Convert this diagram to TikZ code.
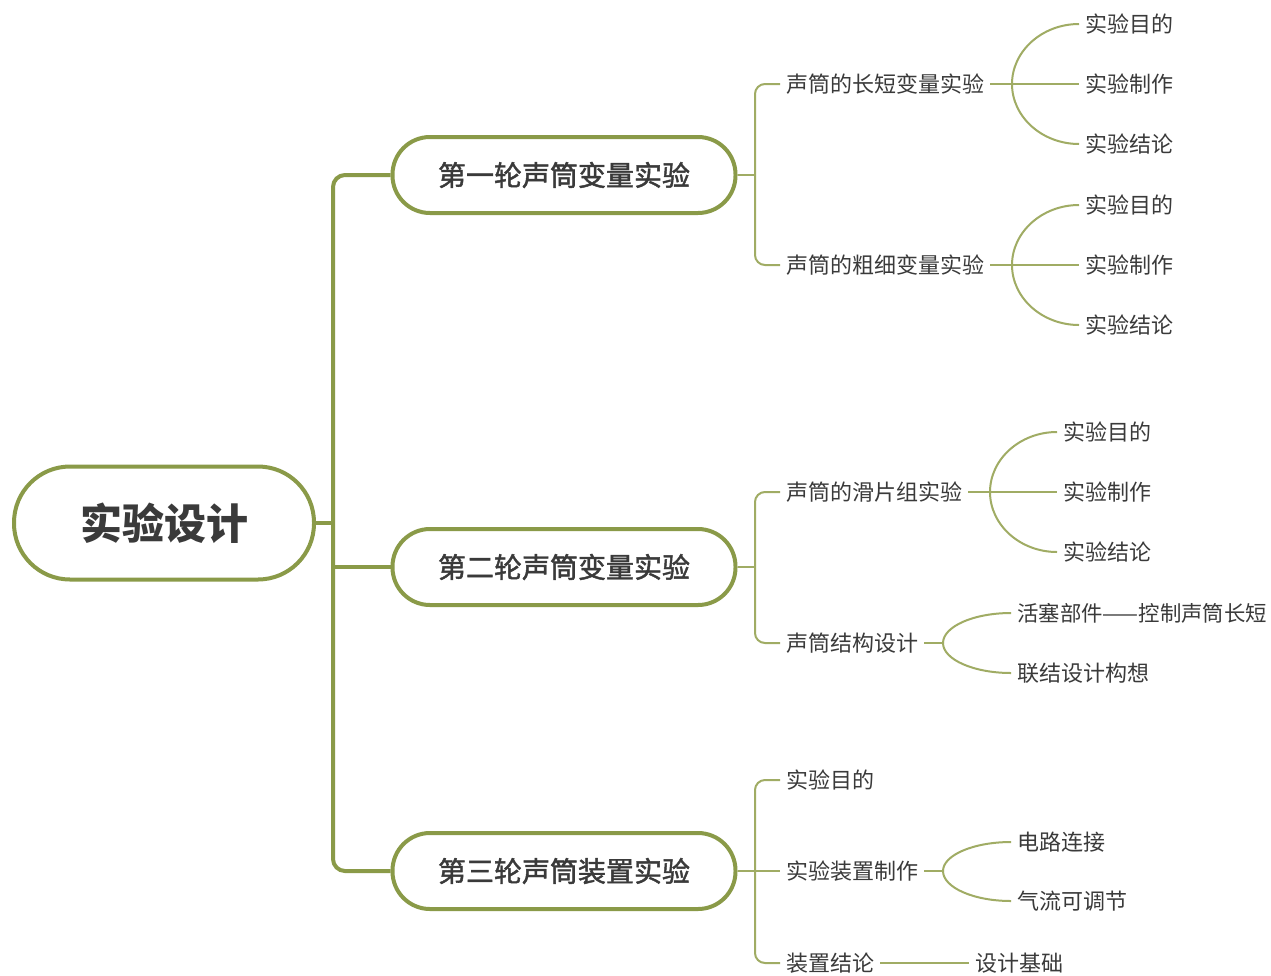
\documentclass[tikz,border=0pt]{standalone}
\usepackage{fontspec}
\usetikzlibrary{calc}
\setmainfont{Noto Sans CJK SC}
\newfontfamily\medcjk[FakeBold=1.6]{Noto Sans CJK SC}
\definecolor{olivea}{HTML}{8A9A48}
\definecolor{oliveb}{HTML}{A0AC64}
\definecolor{txt}{HTML}{3A3A3A}
\newcommand{\arcto}[2]{\draw[twig] (#1) .. controls ($(#1)!0.55!(#1 |- #2.west)$) and ($(#2.west)!0.55!(#1 |- #2.west)$) .. (#2.west);}
\begin{document}
\begin{tikzpicture}[x=1pt,y=-1pt]
\tikzset{
  rootbox/.style={draw=olivea, line width=4pt, rounded corners=56pt, minimum width=300pt, minimum height=113pt, font=\fontsize{42}{42}\selectfont\bfseries, text=txt},
  lvone/.style={draw=olivea, line width=4pt, rounded corners=37.5pt, minimum width=343pt, minimum height=76pt, font=\fontsize{28}{28}\medcjk, text=txt},
  leaf/.style={anchor=west, inner xsep=6pt, inner ysep=2pt, font=\fontsize{22}{22}\selectfont, text=txt},
  trunk/.style={draw=olivea, line width=4pt, rounded corners=12pt},
  twig/.style={draw=oliveb, line width=2pt},
  twigr/.style={draw=oliveb, line width=2pt, rounded corners=10pt},
}
\useasboundingbox (0,0) rectangle (1271,975);
\fill[white] (0,0) rectangle (1271,975);

% main nodes
\node[rootbox] (root) at (164,523) {实验设计};
\node[lvone] (a) at (564,175) {第一轮声筒变量实验};
\node[lvone] (b) at (564,567) {第二轮声筒变量实验};
\node[lvone] (c) at (564,871) {第三轮声筒装置实验};

% level 2
\node[leaf] (a1) at (780,84) {声筒的长短变量实验};
\node[leaf] (a2) at (780,265) {声筒的粗细变量实验};
\node[leaf] (b1) at (780,492) {声筒的滑片组实验};
\node[leaf] (b2) at (780,643) {声筒结构设计};
\node[leaf] (c1) at (780,780) {实验目的};
\node[leaf] (c2) at (780,871) {实验装置制作};
\node[leaf] (c3) at (780,963) {装置结论};

% level 3
\node[leaf] (a1t) at (1079,24) {实验目的};
\node[leaf] (a1m) at (1079,84) {实验制作};
\node[leaf] (a1b) at (1079,144) {实验结论};
\node[leaf] (a2t) at (1079,205) {实验目的};
\node[leaf] (a2m) at (1079,265) {实验制作};
\node[leaf] (a2b) at (1079,325) {实验结论};
\node[leaf] (b1t) at (1057,432) {实验目的};
\node[leaf] (b1m) at (1057,492) {实验制作};
\node[leaf] (b1b) at (1057,552) {实验结论};
\node[leaf, font=\fontsize{21.4}{22}\selectfont] (b2t) at (1011,613) {活塞部件——控制声筒长短};
\node[leaf] (b2b) at (1011,673) {联结设计构想};
\node[leaf] (c2t) at (1011,842) {电路连接};
\node[leaf] (c2b) at (1011,901) {气流可调节};
\node[leaf] (c3x) at (969,963) {设计基础};

% helper coordinates
\coordinate (tx) at (333,523);
\coordinate (va) at (755,0);
\coordinate (ja) at (1012,84);
\coordinate (jaa) at (1012,265);
\coordinate (jb) at (990,492);
\coordinate (jbb) at (943,643);
\coordinate (jc) at (943,871);

% trunk
\draw[trunk] (root.east) -- (root.east -| tx);
\draw[trunk] (a.west) -- (a.west -| tx) -- (c.west -| tx) -- (c.west);
\draw[trunk] (b.west) -- (b.west -| tx);

% level 2 connectors
\draw[twig] (a.east) -- (a.east -| va);
\draw[twigr] (a1.west) -- (a1.west -| va) -- (a2.west -| va) -- (a2.west);
\draw[twig] (b.east) -- (b.east -| va);
\draw[twigr] (b1.west) -- (b1.west -| va) -- (b2.west -| va) -- (b2.west);
\draw[twig] (c.east) -- (c2.west);
\draw[twigr] (c1.west) -- (c1.west -| va) -- (c3.west -| va) -- (c3.west);

% level 3 connectors
\draw[twig] (a1.east) -- (ja) -- (a1m.west);
\arcto{ja}{a1t}
\arcto{ja}{a1b}

\draw[twig] (a2.east) -- (jaa) -- (a2m.west);
\arcto{jaa}{a2t}
\arcto{jaa}{a2b}

\draw[twig] (b1.east) -- (jb) -- (b1m.west);
\arcto{jb}{b1t}
\arcto{jb}{b1b}

\draw[twig] (b2.east) -- (jbb);
\arcto{jbb}{b2t}
\arcto{jbb}{b2b}

\draw[twig] (c2.east) -- (jc);
\arcto{jc}{c2t}
\arcto{jc}{c2b}

\draw[twig] (c3.east) -- (c3x.west);
\end{tikzpicture}
\end{document}
